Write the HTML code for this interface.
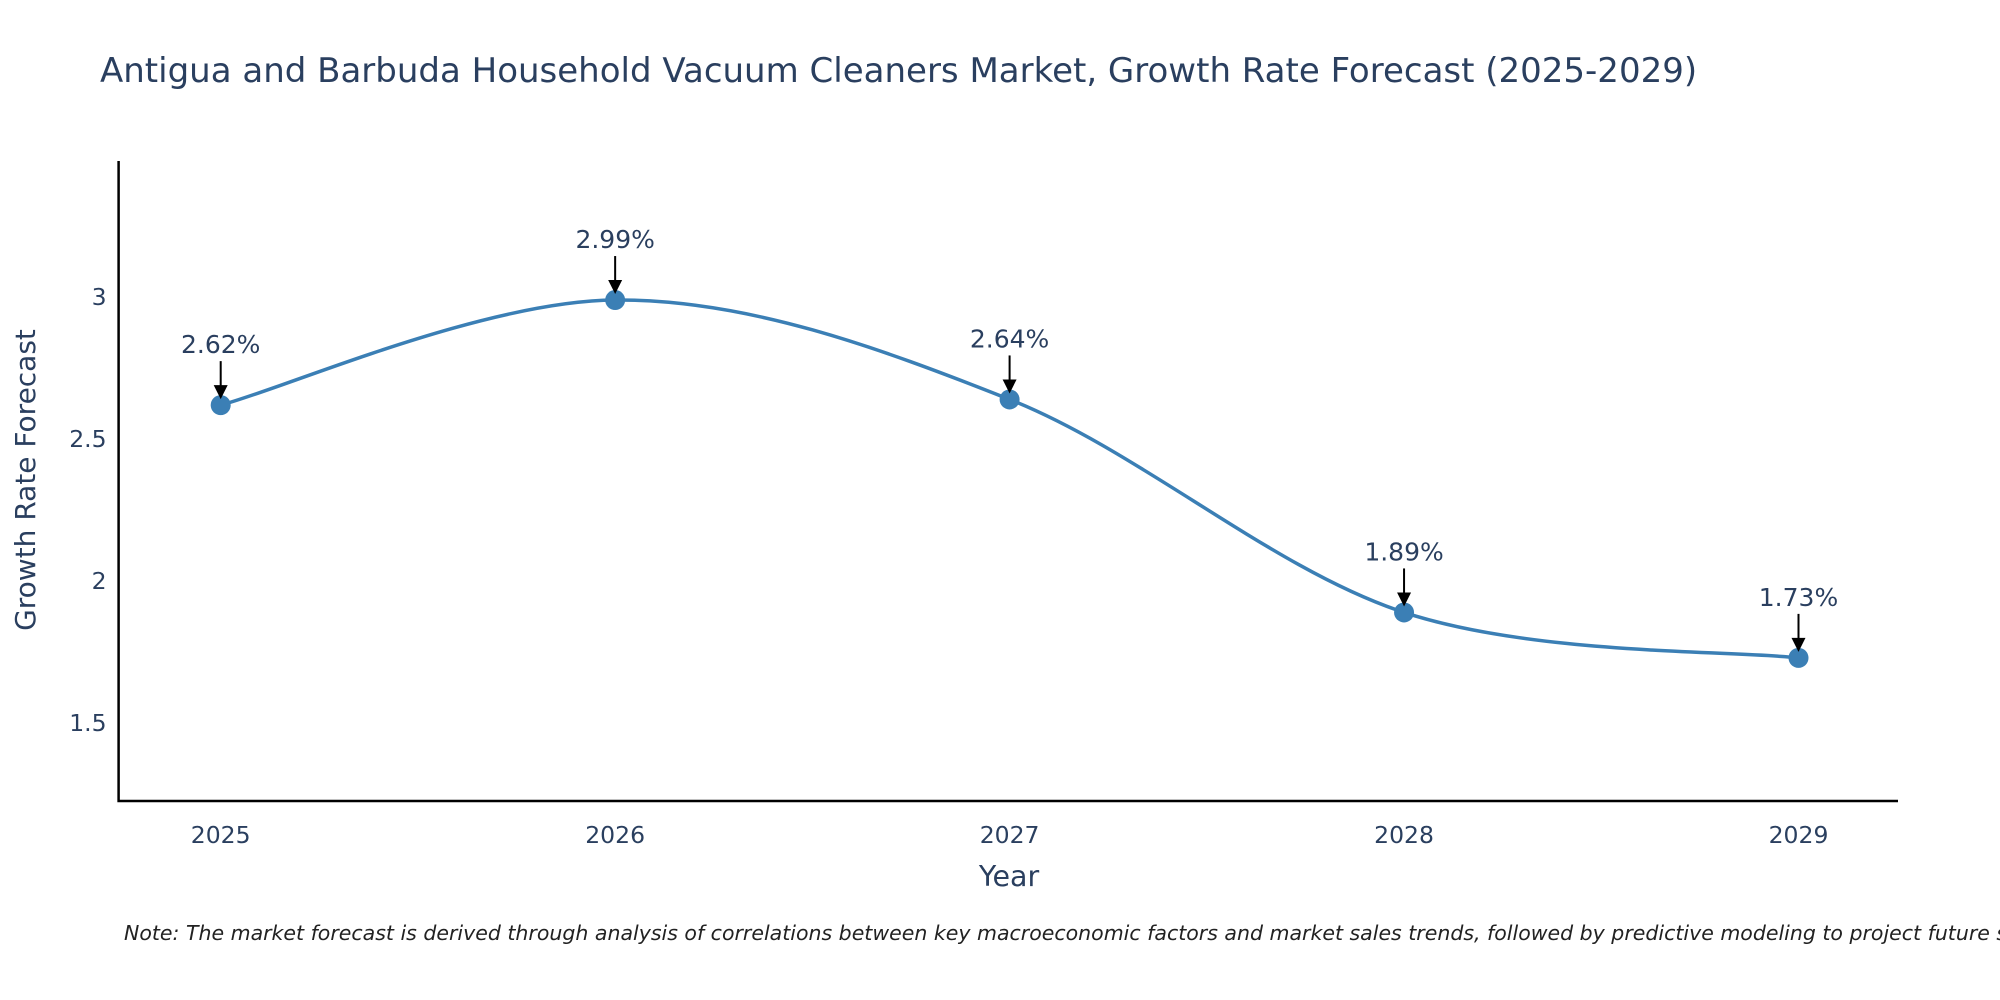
<!DOCTYPE html>
<html><head><meta charset="utf-8"><style>
html,body{margin:0;padding:0;background:#fff;width:2000px;height:1000px;overflow:hidden}
svg text{font-family:"DejaVu Sans","Liberation Sans",sans-serif;fill:#2a3f5f}
</style></head><body>
<svg id="chart" width="2000" height="1000" xmlns="http://www.w3.org/2000/svg">
<text x="100" y="82" font-size="34">Antigua and Barbuda Household Vacuum Cleaners Market, Growth Rate Forecast (2025-2029)</text>
<g id="grid"></g>
<g id="axes"></g>
<path id="line" fill="none" stroke="#3b7fb5" stroke-width="3.5"/>
<g id="marks"></g>
<text x="1009" y="886" font-size="28.5" text-anchor="middle">Year</text>
<text transform="translate(35,480) rotate(-90)" font-size="28" text-anchor="middle">Growth Rate Forecast</text>
<text x="124" y="940" font-size="20.5" font-style="italic" style="fill:#222">Note: The market forecast is derived through analysis of correlations between key macroeconomic factors and market sales trends, followed by predictive modeling to project future sales.</text>
</svg>
<script>
const years = [2025, 2026, 2027, 2028, 2029];
const growth = [2.62, 2.99, 2.64, 1.89, 1.73];
const labels = ["2.62%", "2.99%", "2.64%", "1.89%", "1.73%"];
const yTicks = [1.5, 2, 2.5, 3];

const NS = "http://www.w3.org/2000/svg";
const L = 118.6, R = 1898, T = 161, B = 801;
const x = v => 220.7 + (v - 2025) * (1798.5 - 220.7) / 4;
const y = v => 297.2 - (v - 3) * 284;
function mk(tag, attrs, parent, txt) {
  const e = document.createElementNS(NS, tag);
  for (const k in attrs) e.setAttribute(k, attrs[k]);
  if (txt !== undefined) e.textContent = txt;
  document.getElementById(parent).appendChild(e);
  return e;
}
const ax = mk("path", {d:`M${L},${T} V${B} H${R}`, fill:"none", stroke:"#000", "stroke-width":2.5}, "axes");


yTicks.forEach(t => {
  const e = mk("text", {x:L-12, y:y(t)+8, "font-size":23.5, "text-anchor":"end"}, "axes", String(t));
  
  
});
years.forEach(t => {
  const e = mk("text", {x:x(t), y:B+42, "font-size":23.5, "text-anchor":"middle"}, "axes", String(t));
  
  
});
const P = years.map((v,i)=>[x(v), y(growth[i])]);
let d = `M${P[0][0]},${P[0][1]}`;
const s = 1/6;
for (let i=0;i<P.length-1;i++){
  const p0=P[Math.max(0,i-1)], p1=P[i], p2=P[i+1], p3=P[Math.min(P.length-1,i+2)];
  const c1=[p1[0]+(p2[0]-p0[0])*s, p1[1]+(p2[1]-p0[1])*s];
  const c2=[p2[0]-(p3[0]-p1[0])*s, p2[1]-(p3[1]-p1[1])*s];
  d += ` C${c1[0]},${c1[1]} ${c2[0]},${c2[1]} ${p2[0]},${p2[1]}`;
}
document.getElementById("line").setAttribute("d", d);
P.forEach((p,i) => {
  const c = mk("circle", {cx:p[0], cy:p[1], r:10, fill:"#3b7fb5"}, "marks");
  
  
  const a = mk("line", {x1:p[0], y1:p[1]-44, x2:p[0], y2:p[1]-18, stroke:"#000", "stroke-width":2}, "marks");
  
  
  const h = mk("path", {d:`M${p[0]-7},${p[1]-20} L${p[0]+7},${p[1]-20} L${p[0]},${p[1]-6} Z`, fill:"#000"}, "marks");
  
  
  const t = mk("text", {x:p[0], y:p[1]-52, "font-size":25, "text-anchor":"middle"}, "marks", labels[i]);
  
  
});
</script>
</body></html>
